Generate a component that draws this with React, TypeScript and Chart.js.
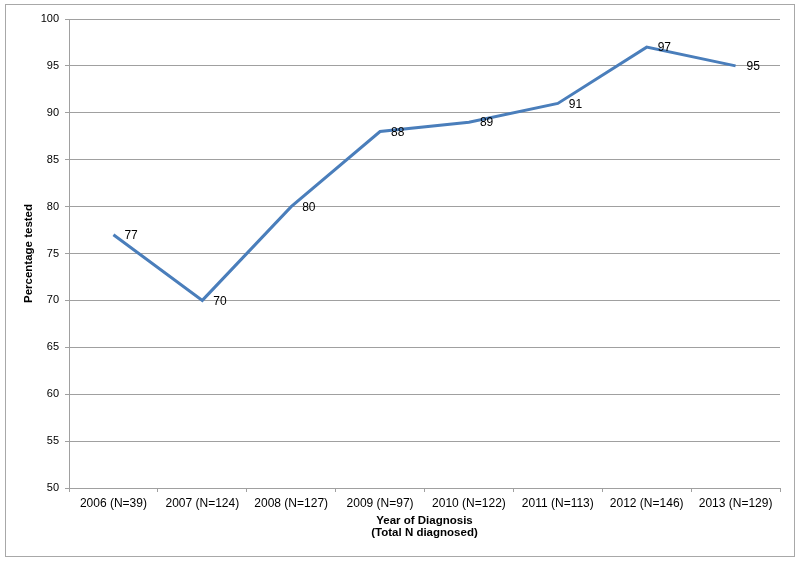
import React, { useEffect, useRef } from "react";
import { Chart, registerables } from "chart.js";

Chart.register(...registerables);

const categories = [
  "2006 (N=39)",
  "2007 (N=124)",
  "2008 (N=127)",
  "2009 (N=97)",
  "2010 (N=122)",
  "2011 (N=113)",
  "2012 (N=146)",
  "2013 (N=129)",
];
const percentTested = [77, 70, 80, 88, 89, 91, 97, 95];
const yMin = 50;
const yMax = 100;
const yStep = 5;
const xTitle = ["Year of Diagnosis", "(Total N diagnosed)"];
const yTitle = "Percentage tested";

const FONT = "Arial, 'Liberation Sans', sans-serif";
const GRID = "#a0a0a0";

const framePlugin = {
  id: "frame",
  beforeDraw(chart: any) {
    const ctx = chart.ctx;
    ctx.save();
    ctx.fillStyle = "#ffffff";
    ctx.fillRect(0, 0, chart.width, chart.height);
    ctx.strokeStyle = "#a8a8a8";
    ctx.lineWidth = 1;
    ctx.strokeRect(5.5, 4.5, 789, 552);
    ctx.restore();
  },
};

const labelPlugin = {
  id: "pointLabels",
  afterDatasetsDraw(chart: any) {
    const ctx = chart.ctx;
    const meta = chart.getDatasetMeta(0);
    const data = chart.data.datasets[0].data;
    ctx.save();
    ctx.font = `12px ${FONT}`;
    ctx.fillStyle = "#000000";
    ctx.textAlign = "left";
    ctx.textBaseline = "middle";
    meta.data.forEach((pt: any, i: number) => {
      ctx.fillText(String(data[i]), pt.x + 11, pt.y + 1);
    });
    ctx.restore();
  },
};

export default function App() {
  const ref = useRef<HTMLCanvasElement | null>(null);

  useEffect(() => {
    document.body.style.margin = "0";
    if (!ref.current) return;
    const chart = new Chart(ref.current, {
      type: "line",
      data: {
        labels: categories,
        datasets: [
          {
            data: percentTested,
            borderColor: "#4a7ebb",
            backgroundColor: "#4a7ebb",
            borderWidth: 3,
            pointRadius: 0,
            pointHoverRadius: 0,
            tension: 0,
            fill: false,
          },
        ],
      },
      options: {
        responsive: false,
        animation: false,
        layout: { padding: { top: 19, right: 20, left: 0, bottom: 0 } },
        plugins: {
          legend: { display: false },
          tooltip: { enabled: false },
        },
        scales: {
          x: {
            type: "category",
            offset: true,
            afterFit(scale: any) {
              scale.height = 74;
            },
            grid: {
              offset: true,
              drawOnChartArea: false,
              drawTicks: true,
              tickLength: 4,
              color: GRID,
            },
            border: { color: GRID, width: 1 },
            ticks: {
              color: "#000000",
              font: { family: FONT, size: 12 },
              padding: 4,
              maxRotation: 0,
              autoSkip: false,
            },
            title: {
              display: true,
              text: xTitle,
              color: "#000000",
              font: { family: FONT, size: 11.5, weight: "bold", lineHeight: 1.04 },
              padding: { top: 0, bottom: 23 },
            },
          },
          y: {
            min: yMin,
            max: yMax,
            afterFit(scale: any) {
              scale.width = 69;
            },
            grid: {
              drawTicks: true,
              tickLength: 4,
              color: GRID,
            },
            border: { color: GRID, width: 1 },
            ticks: {
              stepSize: yStep,
              color: "#000000",
              font: { family: FONT, size: 11 },
              padding: 6,
            },
            title: {
              display: true,
              text: yTitle,
              color: "#000000",
              font: { family: FONT, size: 11.5, weight: "bold", lineHeight: 1.2 },
              padding: { top: 22, bottom: 0 },
            },
          },
        },
      },
      plugins: [framePlugin, labelPlugin],
    });
    return () => chart.destroy();
  }, []);

  return (
    <div style={{ width: 800, height: 562 }}>
      <canvas ref={ref} width={800} height={562} />
    </div>
  );
}
